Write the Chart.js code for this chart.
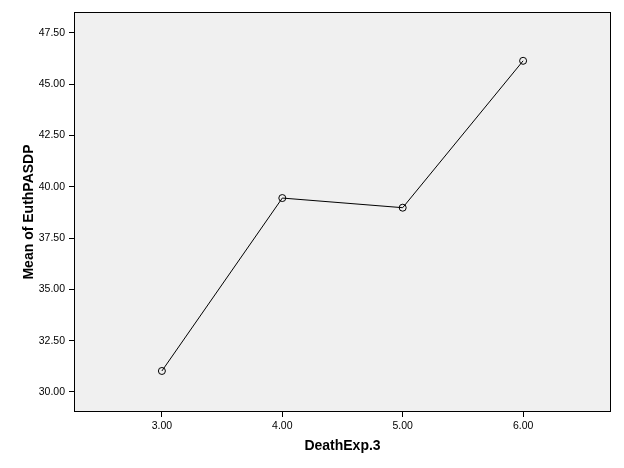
<!DOCTYPE html>
<html>
<head>
<meta charset="utf-8">
<script src="https://cdn.jsdelivr.net/npm/chart.js@4.4.0/dist/chart.umd.min.js"></script>
<style>
  html, body { margin: 0; padding: 0; background: #ffffff; }
  #wrap { width: 624px; height: 468px; }
</style>
</head>
<body>
<div id="wrap"><canvas id="chart" width="624" height="468"></canvas></div>
<script>
// DeathExp.3 groups and mean EuthPASDP
const deathExp = [3, 4, 5, 6]
const meanEuth = [31.02, 39.45, 38.98, 46.14]
const xTicks = [3, 4, 5, 6]
const yTicks = [30, 32.5, 35, 37.5, 40, 42.5, 45, 47.5]

const points = deathExp.map((x, i) => ({x: x, y: meanEuth[i]}))

// grey plot area plus black frame, like the SPSS output
const plotFrame = {
    id: 'plotFrame',
    beforeDraw(chart) {
        const a = chart.chartArea
        const ctx = chart.ctx
        ctx.save()
        ctx.fillStyle = '#f0f0f0'
        ctx.fillRect(a.left, a.top, a.right - a.left, a.bottom - a.top)
        ctx.restore()
    },
    afterDraw(chart) {
        const a = chart.chartArea
        const ctx = chart.ctx
        ctx.save()
        ctx.strokeStyle = '#000000'
        ctx.lineWidth = 1
        ctx.strokeRect(a.left + 0.5, a.top + 0.5, a.right - a.left - 1, a.bottom - a.top - 1)
        ctx.restore()
    }
}

const tickFont = {family: 'Arial, "Liberation Sans", sans-serif', size: 10.5}
const titleFont = {family: 'Arial, "Liberation Sans", sans-serif', size: 14, weight: 'bold'}

new Chart(document.getElementById('chart'), {
    type: 'scatter',
    data: {
        datasets: [{
            data: points,
            showLine: true,
            borderColor: '#000000',
            borderWidth: 1,
            pointStyle: 'circle',
            pointRadius: 3.5,
            pointBorderWidth: 1,
            pointBorderColor: '#000000',
            pointBackgroundColor: 'rgba(0,0,0,0)',
            tension: 0
        }]
    },
    options: {
        responsive: false,
        animation: false,
        layout: {padding: {top: 12, right: 13, left: 0, bottom: 0}},
        plugins: {
            legend: {display: false},
            tooltip: {enabled: false}
        },
        scales: {
            x: {
                type: 'linear',
                min: 2.27,
                max: 6.73,
                afterBuildTicks: scale => { scale.ticks = xTicks.map(v => ({value: v})) },
                afterFit: scale => { scale.height = 56 },
                grid: {drawOnChartArea: false, drawTicks: true, tickLength: 5, tickColor: '#000000', color: '#000000'},
                border: {display: false},
                ticks: {
                    color: '#000000',
                    font: tickFont,
                    padding: 3,
                    maxRotation: 0,
                    callback: v => Number(v).toFixed(2)
                },
                title: {display: true, text: 'DeathExp.3', color: '#000000', font: titleFont, padding: {top: 0, bottom: 13}}
            },
            y: {
                min: 29.02,
                max: 48.52,
                afterBuildTicks: scale => { scale.ticks = yTicks.map(v => ({value: v})) },
                afterFit: scale => { scale.width = 74 },
                grid: {drawOnChartArea: false, drawTicks: true, tickLength: 5, tickColor: '#000000', color: '#000000'},
                border: {display: false},
                ticks: {
                    color: '#000000',
                    font: tickFont,
                    padding: 4,
                    callback: v => Number(v).toFixed(2)
                },
                title: {display: true, text: 'Mean of EuthPASDP', color: '#000000', font: titleFont, padding: {top: 21, bottom: 0}}
            }
        }
    },
    plugins: [plotFrame]
})
</script>
</body>
</html>
